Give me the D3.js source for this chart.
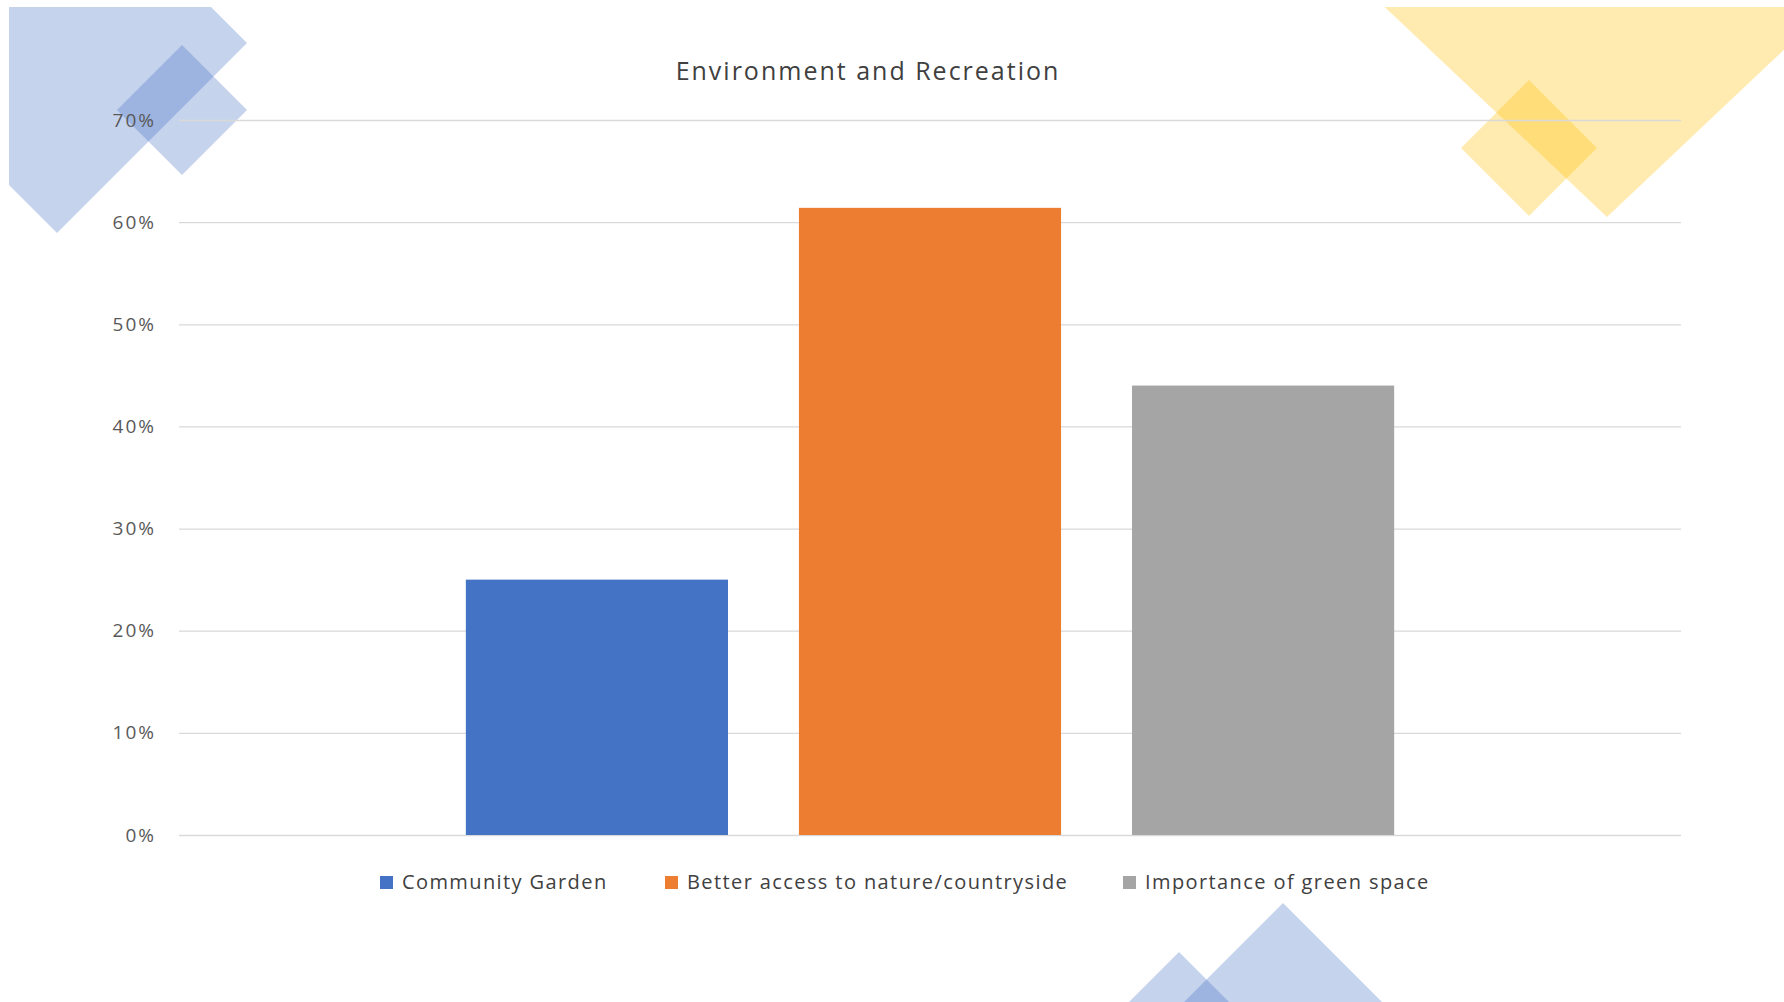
<!DOCTYPE html>
<html>
<head>
<meta charset="utf-8">
<script src="https://cdn.jsdelivr.net/npm/d3@7"></script>
<style>
  html, body { margin: 0; padding: 0; background: #fff; }
  svg { display: block; }
</style>
</head>
<body>
<script>
// data
const category = 'Environment and Recreation'
const series = ['Community Garden', 'Better access to nature/countryside', 'Importance of green space']
const values = [0.25, 0.614, 0.44]
const colors = ['#4472c4', '#ed7d31', '#a5a5a5']
const yTicks = [0, 0.1, 0.2, 0.3, 0.4, 0.5, 0.6, 0.7]

const W = 1784
const H = 1002
const font = "'Open Sans', 'Noto Sans', sans-serif"

const svg = d3.select('body').append('svg')
  .attr('width', W)
  .attr('height', H)

// decorations, clipped to the slide area
svg.append('clipPath').attr('id', 'slide')
  .append('rect').attr('x', 9).attr('y', 7).attr('width', W - 9).attr('height', H - 7)

const deco = svg.append('g').attr('clip-path', 'url(#slide)')
const diamond = ([cx, cy, r]) => `M${cx},${cy - r}L${cx + r},${cy}L${cx},${cy + r}L${cx - r},${cy}Z`
const downTriangle = ([ax, ay, hw, h]) => `M${ax},${ay}L${ax - hw},${ay - h}L${ax + hw},${ay - h}Z`
const shapes = [
  {d: diamond([57, 43, 190]), fill: '#4472c4'},
  {d: diamond([182, 110, 65]), fill: '#4472c4'},
  {d: downTriangle([1607, 217, 270, 255]), fill: '#ffc000'},
  {d: diamond([1529, 148, 68]), fill: '#ffc000'},
  {d: diamond([1283, 1093, 190]), fill: '#4472c4'},
  {d: diamond([1179, 1061, 109]), fill: '#4472c4'}
]
deco.selectAll('path')
  .data(shapes)
  .join('path')
  .attr('d', d => d.d)
  .attr('fill', d => d.fill)
  .attr('fill-opacity', 0.31)

// scales
const plot = {left: 179, right: 1681, top: 120, bottom: 835}
const y = d3.scaleLinear().domain([0, 0.7]).range([plot.bottom, plot.top])
const x0 = d3.scaleBand().domain([category]).range([plot.left, plot.right]).paddingOuter(0.309)
const x1 = d3.scaleBand().domain(series).range([0, x0.bandwidth()]).paddingInner(0.213)

// gridlines + tick labels
const yAxis = d3.axisLeft(y)
  .tickValues(yTicks)
  .tickFormat(d3.format('.0%'))
  .tickSize(-(plot.right - plot.left))
  .tickPadding(23)

const gy = svg.append('g')
  .attr('transform', `translate(${plot.left},0)`)
  .call(yAxis)
gy.select('.domain').remove()
gy.selectAll('.tick line').attr('stroke', '#d9d9d9').attr('stroke-width', 1.3)
gy.selectAll('.tick text')
  .attr('fill', '#595959')
  .style('font-family', font)
  .style('font-size', '19px')
  .style('letter-spacing', '2px')

// bars
svg.append('g')
  .attr('transform', `translate(${x0(category)},0)`)
  .selectAll('rect')
  .data(series)
  .join('rect')
  .attr('x', d => x1(d))
  .attr('width', x1.bandwidth())
  .attr('y', (d, i) => y(values[i]))
  .attr('height', (d, i) => y(0) - y(values[i]))
  .attr('fill', (d, i) => colors[i])

// title
svg.append('text')
  .attr('x', (plot.left + plot.right) / 2 - 62)
  .attr('y', 80)
  .attr('text-anchor', 'middle')
  .attr('fill', '#404040')
  .style('font-family', font)
  .style('font-size', '25px')
  .style('letter-spacing', '2px')
  .text(category)

// legend
const legendX = [380, 665, 1123]
const legend = svg.append('g').attr('transform', 'translate(0,882)')
const item = legend.selectAll('g')
  .data(series)
  .join('g')
  .attr('transform', (d, i) => `translate(${legendX[i]},0)`)
item.append('rect')
  .attr('x', 0)
  .attr('y', -6)
  .attr('width', 13)
  .attr('height', 13)
  .attr('fill', (d, i) => colors[i])
item.append('text')
  .attr('x', 22)
  .attr('dy', '0.35em')
  .attr('fill', '#404040')
  .style('font-family', font)
  .style('font-size', '20px')
  .style('letter-spacing', '1.4px')
  .text(d => d)
</script>
</body>
</html>
